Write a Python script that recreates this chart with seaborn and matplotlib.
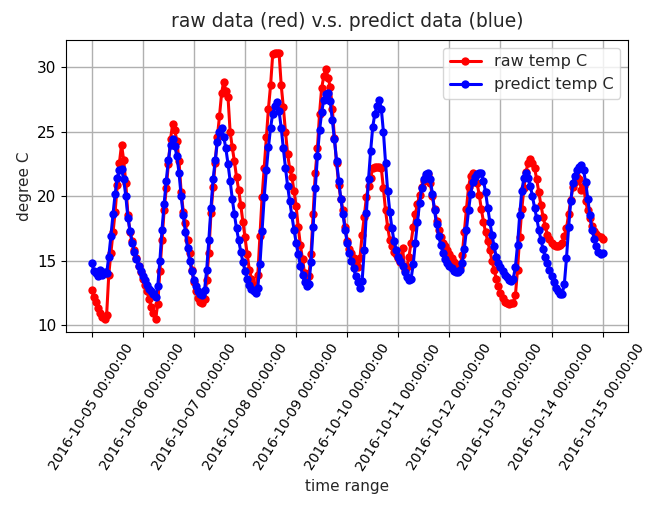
import numpy as np
import pandas as pd
import matplotlib
matplotlib.use("Agg")
import matplotlib.pyplot as plt
import matplotlib.dates as mdates
import seaborn as sns

# hourly readings, 2016-10-05 00:00 .. 2016-10-15 00:00 (one list per day)
raw_days = [
    [12.7, 12.2, 11.8, 11.3, 10.9, 10.6, 10.5, 10.8, 13.9, 15.6, 17.2, 18.8,
     20.9, 22.6, 24.0, 22.8, 21.0, 18.5, 17.2, 16.5, 15.8, 15.2, 14.6, 14.1],
    [13.6, 13.1, 12.6, 12.0, 11.4, 10.9, 10.5, 11.6, 14.2, 16.6, 18.9, 20.6,
     22.5, 24.4, 25.6, 25.1, 24.3, 22.7, 20.3, 18.8, 17.9, 16.6, 15.6, 14.3],
    [13.3, 12.6, 12.1, 11.8, 11.7, 12.0, 13.5, 15.6, 18.7, 20.7, 22.6, 24.6,
     26.2, 28.0, 28.9, 28.2, 27.7, 25.0, 23.8, 22.7, 21.5, 20.5, 19.3, 18.0],
    [16.8, 15.5, 14.3, 13.6, 13.1, 12.8, 13.9, 16.9, 19.9, 22.2, 24.6, 26.8,
     28.6, 31.0, 31.1, 31.1, 31.1, 28.6, 26.9, 25.0, 23.3, 22.1, 21.5, 20.4],
    [19.2, 17.6, 16.2, 15.1, 14.0, 13.3, 13.8, 15.5, 18.6, 21.8, 23.7, 26.4,
     28.4, 29.3, 29.9, 29.2, 28.5, 26.8, 24.5, 22.6, 20.9, 19.8, 18.9, 17.6],
    [16.5, 15.9, 15.6, 15.2, 14.8, 14.5, 15.2, 17.0, 18.4, 19.9, 20.8, 21.4,
     22.2, 22.3, 22.3, 22.3, 22.2, 20.6, 18.9, 17.6, 16.6, 16.1, 15.7, 15.5],
    [15.2, 14.9, 16.0, 14.3, 14.5, 15.3, 16.4, 17.6, 18.6, 19.4, 20.1, 20.7,
     21.2, 21.6, 21.7, 21.0, 20.0, 19.0, 18.1, 17.4, 16.8, 16.4, 16.1, 15.8],
    [15.5, 15.2, 14.9, 14.7, 14.6, 14.5, 15.4, 17.2, 19.0, 20.7, 21.6, 21.8,
     21.6, 21.0, 20.1, 19.0, 18.0, 17.2, 16.5, 15.8, 15.0, 14.3, 13.6, 13.0],
    [12.5, 12.1, 11.8, 11.7, 11.6, 11.7, 11.7, 12.3, 14.3, 16.8, 19.0, 20.6,
     21.9, 22.6, 22.9, 22.6, 22.2, 21.3, 20.3, 19.3, 18.4, 17.7, 17.0, 16.7],
    [16.4, 16.2, 16.1, 16.1, 16.2, 16.4, 16.9, 17.5, 18.6, 19.7, 20.7, 21.1,
     21.5, 21.3, 20.5, 20.8, 19.6, 18.9, 18.3, 17.7, 17.3, 17.1, 16.9, 16.8],
    [16.7],
]

pred_days = [
    [14.8, 14.2, 14.0, 13.8, 14.3, 13.9, 14.1, 14.0, 15.3, 16.9, 18.6, 20.2,
     21.4, 22.0, 22.1, 21.3, 20.0, 18.3, 17.3, 16.4, 15.7, 15.1, 14.6, 14.2],
    [13.8, 13.5, 13.1, 12.8, 12.6, 12.4, 12.2, 13.0, 15.0, 17.4, 19.4, 21.2,
     22.8, 24.0, 24.4, 23.9, 23.1, 21.8, 20.0, 18.5, 17.2, 16.0, 15.0, 14.2],
    [13.5, 13.0, 12.6, 12.4, 12.3, 12.7, 14.3, 16.6, 19.1, 21.3, 22.8, 24.2,
     25.0, 25.3, 24.6, 23.7, 22.5, 21.2, 19.8, 18.6, 17.5, 16.6, 15.7, 14.9],
    [14.2, 13.6, 13.1, 12.8, 12.6, 12.5, 12.9, 14.7, 17.3, 19.9, 22.0, 23.8,
     25.3, 26.4, 27.0, 27.3, 26.6, 25.3, 23.7, 22.2, 20.8, 19.6, 18.5, 17.4],
    [16.4, 15.5, 14.6, 13.9, 13.3, 13.0, 13.2, 14.9, 17.6, 20.6, 23.1, 25.1,
     26.5, 27.5, 27.9, 28.0, 27.4, 25.9, 24.4, 22.7, 21.2, 19.8, 18.6, 17.4],
    [16.4, 15.6, 15.0, 14.4, 13.8, 13.3, 12.9, 13.4, 15.8, 18.7, 21.3, 23.5,
     25.4, 26.4, 27.0, 27.5, 26.8, 25.0, 22.6, 20.4, 18.8, 17.5, 16.5, 15.8],
    [15.3, 15.0, 14.6, 14.1, 13.7, 13.5, 13.6, 14.7, 16.4, 18.0, 19.5, 20.6,
     21.3, 21.7, 21.8, 21.3, 20.2, 18.9, 17.8, 16.9, 16.2, 15.6, 15.1, 14.8],
    [14.6, 14.4, 14.2, 14.1, 14.1, 14.3, 14.8, 15.9, 17.4, 18.9, 20.2, 21.1,
     21.5, 21.7, 21.8, 21.8, 21.2, 20.3, 19.1, 18.0, 17.0, 16.1, 15.3, 14.8],
    [14.5, 14.2, 13.9, 13.7, 13.5, 13.4, 13.6, 14.5, 16.2, 18.5, 20.4, 21.4,
     21.8, 21.4, 20.8, 20.0, 19.1, 18.3, 17.4, 16.6, 15.9, 15.3, 14.8, 14.3],
    [13.8, 13.3, 12.9, 12.6, 12.4, 12.4, 13.2, 15.2, 17.6, 19.6, 21.0, 21.6,
     22.0, 22.3, 22.4, 22.0, 21.1, 19.8, 18.5, 17.4, 16.7, 16.1, 15.7, 15.5],
    [15.6],
]

raw_temp = [v for day in raw_days for v in day]
pred_temp = [v for day in pred_days for v in day]
times = pd.date_range("2016-10-05 00:00:00", periods=len(raw_temp), freq="h")

df = pd.DataFrame({"time": times, "raw": raw_temp, "pred": pred_temp})

sns.set_style("ticks")
plt.rcParams["font.family"] = ["DejaVu Sans"]

fig = plt.figure(figsize=(6.49, 5.05), dpi=100)
ax = fig.add_axes([0.102, 0.343, 0.866, 0.578])

sns.lineplot(data=df, x="time", y="raw", color="red", marker="o",
             markersize=6, markeredgewidth=0, linewidth=2.2,
             label="raw temp C", ax=ax)
sns.lineplot(data=df, x="time", y="pred", color="blue", marker="o",
             markersize=6, markeredgewidth=0, linewidth=2.2,
             label="predict temp C", ax=ax)

ax.xaxis.set_major_locator(mdates.DayLocator())
ax.xaxis.set_major_formatter(mdates.DateFormatter("%Y-%m-%d %H:%M:%S"))
ax.set_xlim(times[0] - pd.Timedelta(hours=12), times[-1] + pd.Timedelta(hours=12))
ax.set_yticks([10, 15, 20, 25, 30])
ax.grid(True, color="#b0b0b0", linewidth=1)
for s in ax.spines.values():
    s.set_visible(True)
    s.set_color("black")
ax.tick_params(axis="y", direction="out", labelsize=11, colors="black")
ax.tick_params(axis="x", direction="out", labelsize=10, colors="black")
plt.setp(ax.get_xticklabels(), rotation=58, ha="center")

ax.set_title("raw data (red) v.s. predict data (blue)", fontsize=13.5, pad=9)
ax.set_xlabel("time range", fontsize=11)
ax.set_ylabel("degree C", fontsize=11)
ax.legend(loc="upper right", fontsize=11.5, framealpha=0.8)

fig.savefig("out.png", dpi=100)
